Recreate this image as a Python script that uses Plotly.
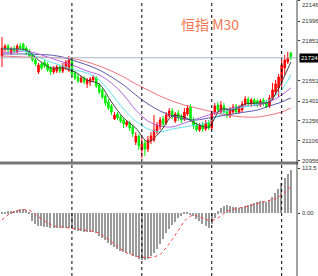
import plotly.graph_objects as go

W, H = 318, 276

# ---------------- data ----------------
bars = list(range(96))

open_ = [21737,21789,21811,21759,21789,21767,21811,21826,21796,21774,
         21744,21707,21618,21677,21692,21677,21648,21618,21625,21655,
         21625,21648,21633,21707,21610,21581,21544,21573,21529,21544,
         21558,21573,21521,21484,21439,21395,21365,21268,21306,21283,
         21261,21224,21239,21209,21097,21142,21038,21090,21045,21105,
         21112,21172,21209,21268,21239,21291,21328,21253,21313,21283,
         21268,21306,21358,21268,21224,21187,21224,21194,21239,21201,
         21313,21372,21320,21365,21328,21291,21320,21365,21320,21335,
         21380,21417,21380,21410,21402,21372,21410,21387,21365,21417,
         21469,21499,21544,21648,21692,21759]
high = [21878,21826,21826,21804,21811,21826,21834,21834,21811,21789,
        21759,21722,21685,21692,21707,21692,21662,21662,21670,21670,
        21685,21707,21737,21729,21625,21603,21588,21588,21573,21581,
        21596,21588,21536,21499,21454,21417,21380,21320,21320,21298,
        21276,21261,21253,21224,21172,21157,21127,21112,21142,21172,
        21298,21246,21283,21291,21320,21350,21350,21320,21335,21306,
        21350,21372,21380,21283,21246,21239,21246,21261,21261,21328,
        21387,21395,21402,21387,21350,21358,21380,21380,21372,21402,
        21439,21432,21425,21425,21417,21417,21425,21410,21447,21536,
        21558,21603,21707,21744,21767,21767]
low = [21655,21767,21767,21744,21759,21759,21782,21774,21744,21722,
       21692,21662,21603,21633,21648,21618,21596,21603,21610,21610,
       21610,21633,21618,21588,21558,21536,21536,21529,21499,21514,
       21544,21499,21454,21417,21365,21335,21298,21261,21261,21239,
       21201,21209,21179,21134,21075,21038,20978,20993,21023,21082,
       21097,21157,21187,21209,21224,21276,21268,21239,21253,21239,
       21253,21291,21246,21194,21172,21172,21172,21179,21187,21187,
       21298,21320,21306,21306,21276,21276,21306,21306,21306,21320,
       21365,21365,21358,21365,21358,21358,21365,21350,21350,21410,
       21447,21432,21506,21596,21677,21707]
close = [21796,21811,21782,21789,21774,21811,21796,21789,21767,21737,
         21707,21677,21670,21648,21662,21633,21618,21648,21655,21625,
         21662,21692,21707,21603,21573,21551,21573,21544,21558,21566,
         21581,21514,21469,21432,21387,21350,21320,21298,21276,21253,
         21231,21246,21201,21157,21142,21068,21082,21045,21112,21142,
         21187,21224,21261,21231,21298,21328,21291,21306,21276,21261,
         21320,21350,21261,21216,21187,21216,21194,21239,21201,21313,
         21365,21335,21372,21320,21298,21335,21358,21320,21350,21380,
         21417,21380,21410,21380,21372,21402,21380,21358,21425,21484,
         21529,21581,21670,21707,21722,21722]

ma_x = [0,4,8,12,16,20,24,28,32,36,40,44,48,52,56,60,64,68,72,76,80,84,88,92,95]
ma_fast = [21789,21789,21782,21707,21648,21648,21618,21558,21529,21395,21276,21201,21097,
           21172,21291,21283,21231,21209,21343,21335,21380,21387,21395,21544,21692]
ma_cyan = [21789,21789,21767,21729,21692,21662,21633,21610,21558,21454,21343,21253,21194,
           21172,21194,21209,21224,21246,21306,21343,21358,21380,21410,21484,21596]
ma_violet = [21759,21767,21774,21752,21722,21692,21662,21625,21596,21536,21447,21335,21253,
             21216,21209,21239,21268,21298,21328,21350,21365,21372,21395,21447,21499]
ma_blue = [21752,21752,21752,21748,21744,21729,21700,21670,21633,21581,21521,21447,21380,
           21328,21291,21268,21261,21276,21291,21306,21320,21335,21365,21395,21425]
ma_pink = [21737,21733,21729,21729,21726,21722,21715,21692,21662,21625,21581,21529,21484,
           21439,21402,21372,21350,21328,21306,21291,21283,21283,21298,21320,21350]

macd_hist = [2,4,5,5,6,8,10,12,8,3,
             -20,-28,-32,-33,-34,-35,-36,-37,-37,-38,
             -38,-37,-36,-40,-42,-44,-45,-46,-47,-47,
             -46,-50,-56,-62,-68,-74,-80,-85,-90,-94,
             -98,-100,-103,-107,-110,-114,-117,-118,-115,-108,
             -100,-90,-78,-65,-50,-40,-30,-22,-12,-6,
             2,4,-3,-8,-14,-20,-26,-32,-36,-28,
             -12,5,14,18,20,19,17,15,14,15,
             19,22,24,26,28,30,31,29,32,40,
             50,62,76,90,100,110]
macd_signal = [-17,-10,-4,1,4,7,8,9,9,8,
               3,-2,-8,-14,-20,-25,-29,-32,-33,-34,
               -35,-36,-37,-38,-38,-39,-40,-41,-42,-44,
               -46,-48,-50,-55,-61,-67,-73,-78,-84,-90,
               -95,-100,-103,-106,-108,-110,-111,-112,-112,-111,
               -110,-107,-104,-96,-87,-77,-66,-54,-42,-30,
               -20,-12,-7,-5,-6,-9,-12,-16,-18,-18,
               -16,-12,-6,0,5,8,10,12,14,15,
               16,18,20,22,24,26,28,30,32,34,
               37,41,46,53,60,67]

price_ticks = [22146, 21996, 21851, 21551, 21401, 21256, 21106, 20956]
last_price = 21724
macd_ticks = [113.5, 0.0]
macd_tick_text = ["113.5", "0.00"]
sep_bars = [23, 46, 69, 92]
title_text = "恒指 M30"

# ---------------- layout geometry ----------------
XR = 297 / W
x_range = [-0.66, 97.04]
main_top, main_bot = 0, 162
macd_top = 165
y_main_range = [22153.4 - main_bot * 7.4375, 22153.4]
y_macd_range = [-158.1, 121.8]
LBL_X = 300 / W

fig = go.Figure()
fig.add_trace(go.Candlestick(
    x=bars, open=open_, high=high, low=low, close=close,
    increasing=dict(line=dict(color="#ff0000", width=1), fillcolor="#ff0000"),
    decreasing=dict(line=dict(color="#00f000", width=1), fillcolor="#00f000"),
    whiskerwidth=0, xaxis="x", yaxis="y", hoverinfo="skip", showlegend=False))

for vals, col in [(ma_pink, "#f0707c"), (ma_blue, "#5858a8"), (ma_violet, "#b462e2"),
                  (ma_cyan, "#5fe3f0"), (ma_fast, "#404040")]:
    fig.add_trace(go.Scatter(x=ma_x, y=vals, mode="lines",
                             line=dict(color=col, width=1, shape="spline", smoothing=0.8),
                             xaxis="x", yaxis="y", hoverinfo="skip", showlegend=False))

fig.add_trace(go.Bar(x=bars, y=macd_hist, marker=dict(color="#9a9a9a", line=dict(width=0)),
                     width=0.45, xaxis="x2", yaxis="y2", hoverinfo="skip", showlegend=False))
fig.add_trace(go.Scatter(x=bars, y=macd_signal, mode="lines",
                         line=dict(color="#ff4040", width=1, dash="dot"),
                         xaxis="x2", yaxis="y2", hoverinfo="skip", showlegend=False))

lblfont = dict(family="Liberation Sans, Arial, sans-serif", size=6, color="#333333")

shapes = []
for b in sep_bars:
    shapes.append(dict(type="line", xref="x", yref="paper", x0=b, x1=b, y0=0, y1=1,
                       line=dict(color="#000000", width=1, dash="dot")))
shapes.append(dict(type="line", xref="paper", yref="y", x0=0, x1=XR, y0=last_price, y1=last_price,
                   line=dict(color="#aab6c6", width=1.2)))
shapes.append(dict(type="line", xref="paper", yref="paper", x0=0, x1=XR + 0.004,
                   y0=1 - 163 / H, y1=1 - 163 / H, line=dict(color="#777777", width=3)))
shapes.append(dict(type="line", xref="paper", yref="paper", x0=XR, x1=XR, y0=0, y1=1,
                   line=dict(color="#444444", width=1)))

annotations = [
    dict(text=title_text, xref="paper", yref="paper", x=210 / W, y=1 - 12.5 / H,
         showarrow=False, font=dict(family="Noto Sans CJK SC", size=14, color="#f07850")),
    dict(text=str(last_price), xref="paper", yref="y", x=298.5 / W, y=last_price,
         xanchor="left", yanchor="middle", showarrow=False, bgcolor="#000000", borderpad=1,
         font=dict(family="Liberation Sans, Arial, sans-serif", size=6, color="#ffffff")),
]
for v in price_ticks:
    if v == max(price_ticks):
        # top label sits at the upper edge; keep it fully inside the picture
        annotations.append(dict(text=str(v), xref="paper", yref="paper", x=LBL_X, y=1,
                                xanchor="left", yanchor="top", showarrow=False, font=lblfont))
    else:
        annotations.append(dict(text=str(v), xref="paper", yref="y", x=LBL_X, y=v,
                                xanchor="left", yanchor="middle", showarrow=False, font=lblfont))
for v, t in zip(macd_ticks, macd_tick_text):
    annotations.append(dict(text=t, xref="paper", yref="y2", x=LBL_X, y=v,
                            xanchor="left", yanchor="middle", showarrow=False, font=lblfont))

fig.update_layout(
    width=W, height=H, margin=dict(l=0, r=0, t=0, b=0),
    paper_bgcolor="white", plot_bgcolor="white", showlegend=False, bargap=0,
    xaxis=dict(domain=[0, XR], range=x_range, visible=False, rangeslider=dict(visible=False),
               anchor="y"),
    yaxis=dict(domain=[1 - main_bot / H, 1 - main_top / H], range=y_main_range, side="right",
               anchor="x", tickvals=price_ticks, showticklabels=False,
               ticks="outside", ticklen=2, tickcolor="#333333",
               showgrid=False, zeroline=False, showline=False, automargin=False),
    xaxis2=dict(domain=[0, XR], range=x_range, visible=False, anchor="y2"),
    yaxis2=dict(domain=[0, 1 - macd_top / H], range=y_macd_range, side="right",
                anchor="x2", tickvals=macd_ticks, showticklabels=False,
                ticks="outside", ticklen=2, tickcolor="#333333",
                showgrid=False, zeroline=False, showline=False, automargin=False),
    shapes=shapes,
    annotations=annotations,
)

fig.write_html("out.html", config={"displayModeBar": False})
